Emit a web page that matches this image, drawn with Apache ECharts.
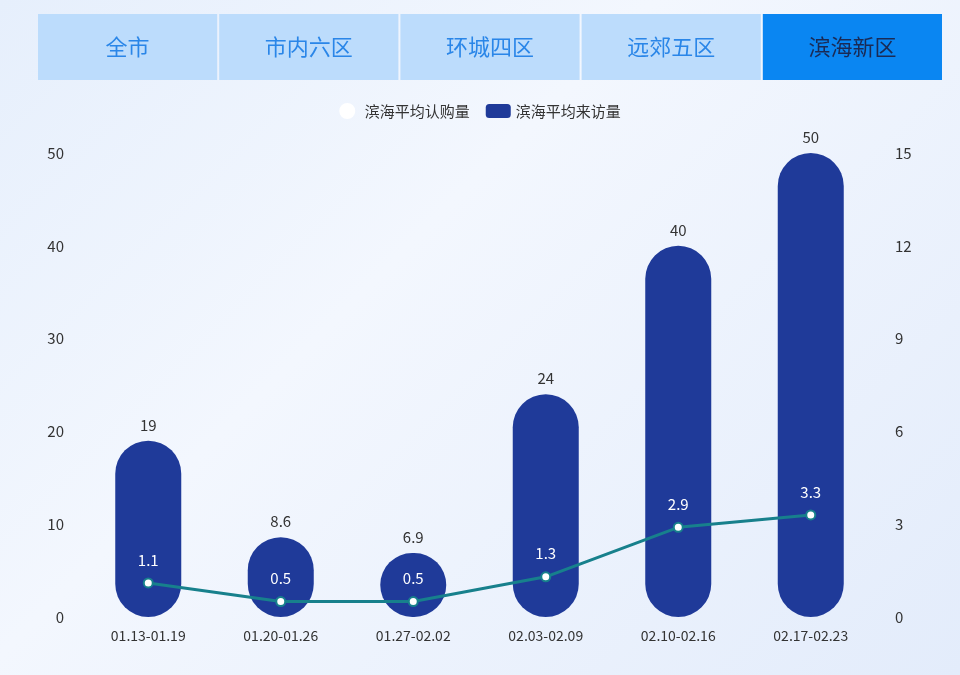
<!DOCTYPE html>
<html><head><meta charset="utf-8">
<script src="https://cdn.jsdelivr.net/npm/echarts@6/dist/echarts.min.js"></script>
<style>html,body{margin:0;padding:0}#c{width:960px;height:675px;background:linear-gradient(135deg,#e6effc 0%,#f3f7fe 40%,#e3ecfb 100%)}</style>
</head><body><div id="c"></div>
<script>
const tabs=['全市','市内六区','环城四区','远郊五区','滨海新区'];
const categories=['01.13-01.19','01.20-01.26','01.27-02.02','02.03-02.09','02.10-02.16','02.17-02.23'];
const visits=[19,8.6,6.9,24,40,50];
const purchases=[1.1,0.5,0.5,1.3,2.9,3.3];
const chart=echarts.init(document.getElementById('c'));
const tabW=181.2,tabX=38;
const graphic=[];
tabs.forEach((t,i)=>{
  const active=i===4;
  graphic.push({type:'rect',shape:{x:tabX+i*tabW,y:14,width:tabW-2,height:66},style:{fill:active?'#0a86f2':'#bcdcfc'}});
  graphic.push({type:'text',x:tabX+i*tabW+tabW/2-1,y:47,style:{text:t,fill:active?'#1a2a55':'#2a86e8',font:'22px "Noto Sans CJK SC"',align:'center',verticalAlign:'middle'}});
});
chart.setOption({
  graphic,
  textStyle:{fontFamily:'"Noto Sans CJK SC","Noto Sans",sans-serif'},
  legend:{top:98,itemGap:16,textStyle:{fontSize:15,color:'#333'},data:[
    {name:'滨海平均认购量',icon:'emptyCircle',itemStyle:{color:'#fff',borderColor:'#17808c',borderWidth:2}},
    {name:'滨海平均来访量',icon:'roundRect'}]},
  grid:{left:82,right:83,top:153,bottom:58},
  xAxis:{type:'category',data:categories,axisLine:{show:false},axisTick:{show:false},axisLabel:{color:'#333',fontSize:14,margin:12}},
  yAxis:[
    {type:'value',min:0,max:50,interval:10,splitLine:{show:false},axisLabel:{color:'#333',fontSize:15,margin:18}},
    {type:'value',min:0,max:15,interval:3,splitLine:{show:false},axisLabel:{color:'#333',fontSize:15,margin:18}}
  ],
  series:[
    {name:'滨海平均来访量',type:'bar',data:visits,barWidth:66,itemStyle:{color:'#1f3a99',borderRadius:33},label:{show:true,position:'top',color:'#333',fontSize:15,distance:8},z:1},
    {name:'滨海平均认购量',type:'line',yAxisIndex:1,data:purchases,symbol:'circle',symbolSize:9,itemStyle:{color:'#fff',borderColor:'#17808c',borderWidth:2},lineStyle:{color:'#17808c',width:3},label:{show:true,position:'top',color:'#fff',fontSize:15,distance:10},z:3}
  ]
});
</script></body></html>
